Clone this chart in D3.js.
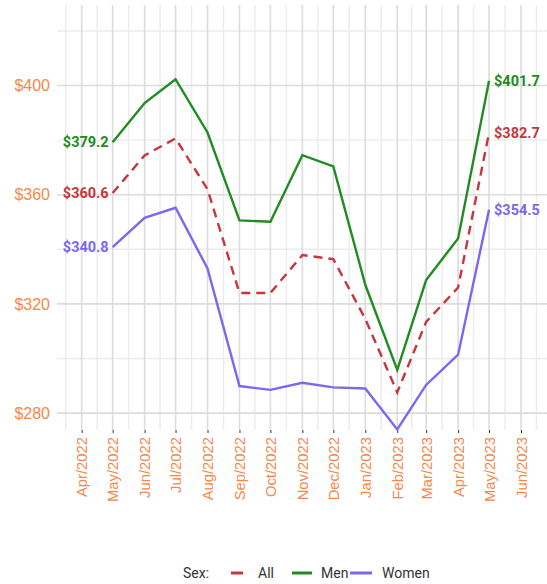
<!DOCTYPE html>
<html>
<head>
<meta charset="utf-8">
<script src="https://cdn.jsdelivr.net/npm/d3@7"></script>
<style>
  body { margin: 0; background: #fff; }
  svg { font-family: Roboto, "Noto Sans", sans-serif; }
</style>
</head>
<body>
<svg width="547" height="584"></svg>
<script>
// months shown on the x axis and the monthly data
var months = ["2022-05", "2022-06", "2022-07", "2022-08", "2022-09", "2022-10", "2022-11",
              "2022-12", "2023-01", "2023-02", "2023-03", "2023-04", "2023-05"];
var allValues   = [360.6, 374.4, 380.6, 362.0, 324.0, 324.0, 337.9, 336.4, 314.5, 287.6, 313.4, 326.0, 382.7];
var menValues   = [379.2, 393.6, 402.3, 382.8, 350.6, 350.1, 374.5, 370.4, 327.0, 295.8, 328.7, 344.0, 401.7];
var womenValues = [340.8, 351.5, 355.2, 333.0, 289.9, 288.5, 291.1, 289.4, 289.0, 274.0, 290.3, 301.4, 354.5];
var tickMonths  = ["2022-04", "2022-05", "2022-06", "2022-07", "2022-08", "2022-09", "2022-10", "2022-11",
                   "2022-12", "2023-01", "2023-02", "2023-03", "2023-04", "2023-05", "2023-06"];
var yTicks = [280, 320, 360, 400];
var yMinor = [300, 340, 380, 420];

var parse = d3.timeParse("%Y-%m");
var fmtMonth = d3.timeFormat("%b/%Y");

var panel = {left: 57, right: 547, top: 5, bottom: 430};

var x = d3.scaleTime()
    .domain([parse("2022-04"), parse("2023-06")])
    .range([81.7, 521]);
var y = d3.scaleLinear()
    .domain([273.8, 429.5])
    .range([panel.bottom, panel.top]);

var series = [
  {name: "All",   color: "#c8363d", dash: "9,6", values: allValues},
  {name: "Men",   color: "#228b22", dash: null,  values: menValues},
  {name: "Women", color: "#7b68ee", dash: null,  values: womenValues}
];

var svg = d3.select("svg");
var orange = "#f4874b";

// grid
var grid = svg.append("g");
var tickDates = tickMonths.map(parse);
var allMonthDates = [d3.timeMonth.offset(tickDates[0], -1)].concat(tickDates, [d3.timeMonth.offset(tickDates[tickDates.length - 1], 1)]);
var minorX = [];
for (var i = 0; i < allMonthDates.length - 1; i++) {
  minorX.push((x(allMonthDates[i]) + x(allMonthDates[i + 1])) / 2);
}
grid.selectAll(".vminor").data(minorX).enter().append("line")
    .attr("x1", function(d) { return d; }).attr("x2", function(d) { return d; })
    .attr("y1", panel.top).attr("y2", panel.bottom)
    .attr("stroke", "#ececec").attr("stroke-width", 1.4);
grid.selectAll(".hminor").data(yMinor).enter().append("line")
    .attr("x1", panel.left).attr("x2", panel.right)
    .attr("y1", function(d) { return y(d); }).attr("y2", function(d) { return y(d); })
    .attr("stroke", "#ececec").attr("stroke-width", 1.4);
grid.selectAll(".vmajor").data(tickDates).enter().append("line")
    .attr("x1", function(d) { return x(d); }).attr("x2", function(d) { return x(d); })
    .attr("y1", panel.top).attr("y2", panel.bottom)
    .attr("stroke", "#dcdcdc").attr("stroke-width", 1.6);
grid.selectAll(".hmajor").data(yTicks).enter().append("line")
    .attr("x1", panel.left).attr("x2", panel.right)
    .attr("y1", function(d) { return y(d); }).attr("y2", function(d) { return y(d); })
    .attr("stroke", "#dcdcdc").attr("stroke-width", 1.6);

// x axis
var xAxis = d3.axisBottom(x)
    .tickValues(tickDates)
    .tickSize(3)
    .tickFormat(fmtMonth);
var gx = svg.append("g")
    .attr("transform", "translate(0," + panel.bottom + ")")
    .call(xAxis);
gx.select(".domain").remove();
gx.selectAll(".tick line").attr("stroke", "#333").attr("stroke-width", 1);
gx.selectAll(".tick text")
    .attr("fill", orange)
    .style("font-size", "14.8px")
    .attr("transform", "rotate(-90)")
    .attr("text-anchor", "end")
    .attr("x", -7)
    .attr("y", 0)
    .attr("dy", "0.35em");

// y axis
var yAxis = d3.axisLeft(y)
    .tickValues(yTicks)
    .tickSize(0)
    .tickPadding(7)
    .tickFormat(function(d) { return "$" + d; });
var gy = svg.append("g")
    .attr("transform", "translate(" + panel.left + ",0)")
    .call(yAxis);
gy.select(".domain").remove();
gy.selectAll(".tick text")
    .attr("fill", orange)
    .style("font-size", "16px");

// lines
var line = d3.line()
    .x(function(d) { return x(parse(d.m)); })
    .y(function(d) { return y(d.v); });

series.forEach(function(s) {
  var pts = months.map(function(m, i) { return {m: m, v: s.values[i]}; });
  svg.append("path")
      .datum(pts)
      .attr("fill", "none")
      .attr("stroke", s.color)
      .attr("stroke-width", 2.4)
      .attr("stroke-dasharray", s.dash)
      .attr("d", line);

  var first = pts[0], last = pts[pts.length - 1];
  svg.append("text")
      .attr("x", x(parse(first.m)) - 4)
      .attr("y", y(first.v))
      .attr("dy", "0.35em")
      .attr("text-anchor", "end")
      .attr("fill", s.color)
      .style("font-size", "14.5px")
      .style("font-weight", "bold")
      .text("$" + first.v.toFixed(1));
  svg.append("text")
      .attr("x", x(parse(last.m)) + 5)
      .attr("y", y(last.v))
      .attr("dy", "0.35em")
      .attr("text-anchor", "start")
      .attr("fill", s.color)
      .style("font-size", "14.5px")
      .style("font-weight", "bold")
      .text("$" + last.v.toFixed(1));
});

// legend
var legend = svg.append("g").attr("transform", "translate(0,573)");
legend.append("text")
    .attr("x", 183).attr("dy", "0.35em")
    .attr("fill", "#333").style("font-size", "14px")
    .text("Sex:");
var legendItems = [
  {s: series[0], x1: 231, x2: 243, tx: 258},
  {s: series[1], x1: 292, x2: 312, tx: 321},
  {s: series[2], x1: 350, x2: 372, tx: 382}
];
legendItems.forEach(function(it) {
  legend.append("line")
      .attr("x1", it.x1).attr("x2", it.x2)
      .attr("stroke", it.s.color).attr("stroke-width", 3);
  legend.append("text")
      .attr("x", it.tx).attr("dy", "0.35em")
      .attr("fill", "#333").style("font-size", "14px")
      .text(it.s.name);
});
</script>
</body>
</html>
